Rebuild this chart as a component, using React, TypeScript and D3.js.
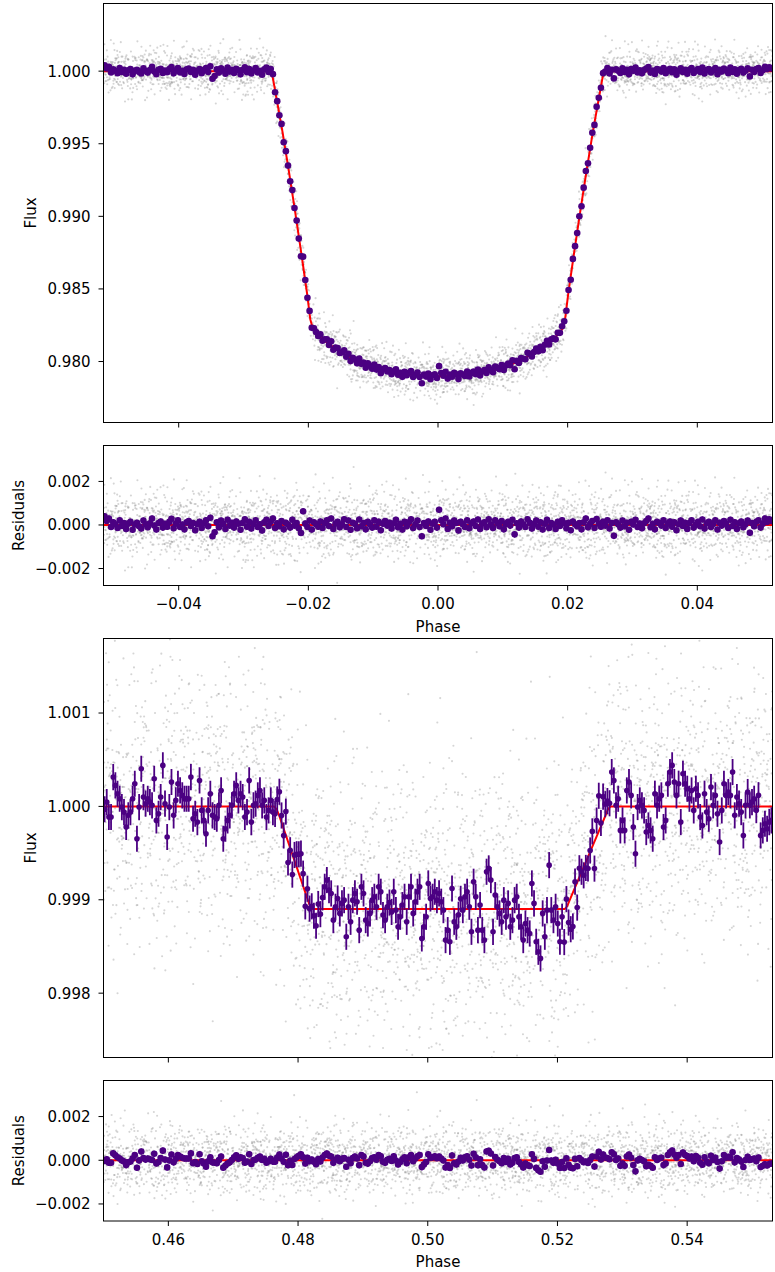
import React from 'react';
import * as d3 from 'd3';

// Phase windows around the primary transit and the secondary eclipse
const PRIMARY_WINDOW: [number, number] = [-0.0516, 0.0516];
const SECONDARY_WINDOW: [number, number] = [0.45, 0.55316];
const BIN_COUNT = 310;
const RAW_COUNT = 3500;
const RAW_SIGMA = 0.00068;
const BIN_ERROR = 0.00014;

// Best-fit transit model (phase, flux)
const PRIMARY_MODEL: [number, number][] = [
  [-0.0516, 1.0], [-0.0257, 1.0], [-0.0254, 0.99935], [-0.0249, 0.9981], [-0.024, 0.99585],
  [-0.023, 0.9931], [-0.022, 0.9902], [-0.021, 0.9872], [-0.0202, 0.9847], [-0.0197, 0.9829],
  [-0.0193, 0.98225], [-0.0185, 0.98185], [-0.017, 0.98125], [-0.015, 0.98065], [-0.013, 0.98012],
  [-0.011, 0.97975], [-0.009, 0.97945], [-0.006, 0.97918], [-0.003, 0.97903], [0.0, 0.97898],
  [0.003, 0.97903], [0.006, 0.97918], [0.009, 0.97945], [0.011, 0.97975], [0.013, 0.98012],
  [0.015, 0.98065], [0.017, 0.98125], [0.0185, 0.98185], [0.0192, 0.98225], [0.0196, 0.9829],
  [0.0201, 0.9847], [0.0209, 0.9872], [0.0219, 0.9902], [0.0229, 0.9931], [0.0239, 0.99585],
  [0.0248, 0.9981], [0.0253, 0.99935], [0.0256, 1.0], [0.0516, 1.0],
];

// Best-fit secondary eclipse model (phase, flux)
const SECONDARY_MODEL: [number, number][] = [
  [0.45, 1.0], [0.4763, 1.0], [0.4767, 0.99997], [0.4771, 0.9999], [0.4817, 0.99896],
  [0.4821, 0.9989], [0.5211, 0.9989], [0.5215, 0.99893], [0.5219, 0.999], [0.5274, 0.9999],
  [0.5278, 0.99997], [0.5282, 1.0], [0.5532, 1.0],
];

// Binned residuals around the transit, ppm
const PRIMARY_RESID_PPM = [
  400, 180, 300, -90, 120, 30, -140, 210, -50, 90,
  -180, 60, 140, -220, 20, 100, -60, -160, 200, 30,
  -100, 80, 300, -30, -210, 90, 160, -120, 50, -80,
  140, 280, -150, 60, 220, -90, 20, -200, 120, 180,
  -50, 90, -240, 30, 150, -140, 80, 210, -60, 330,
  -520, -340, 120, -100, 200, 50, -180, 240, -30, 100,
  -120, 160, 60, -220, 90, 260, -80, 140, -160, 50,
  210, -90, 30, -250, 120, 240, -50, 150, 300, -140,
  80, -60, 180, -200, 100, 20, -120, 240, -30, 90,
  -150, -370, 630, 60, -90, 200, -210, 120, 30, -80,
  160, -140, 90, 220, -50, 300, -180, 60, 140, -100,
  30, 260, -90, 200, -220, 100, 50, -150, 250, -60,
  90, -200, 150, 30, -120, 210, -80, 140, -240, 60,
  180, -30, 100, -160, 80, 240, -100, 50, -210, 150,
  -60, 120, 260, -140, 30, 200, -90, -520, 90, -50,
  160, -220, 60, 140, -120, 700, 220, 30, 300, -180,
  100, -60, 200, 90, -250, 140, 30, -90, 210, -150,
  80, 160, -50, 250, -180, 60, 120, -100, 260, 20,
  -140, 220, 90, -60, 180, -200, 50, 140, -30, 240,
  -430, 80, -120, 160, 30, -90, 260, 100, -160, 50,
  200, -80, 120, -210, 60, 240, -140, 90, 20, -180,
  140, -50, 210, 80, -150, 100, -240, 160, 30, -60,
  90, -200, 120, 300, -100, 50, 180, -140, 270, 60,
  -80, 150, -30, 220, -160, 90, -500, 120, 30, -120,
  200, -60, 100, -220, 140, 20, 240, -90, 60, -150,
  80, 180, 290, -100, 50, -200, 140, 90, -30, 210,
  -140, 60, 160, -80, 120, -240, 30, 200, -50, 100,
  -180, 90, 220, -120, 20, 150, -60, 250, -160, 80,
  140, -90, 50, 210, -210, 100, -30, 180, 60, -140,
  240, -50, 120, -180, 80, 160, -100, 30, 200, -360,
  90, -60, 150, 220, -120, 60, 300, 140, 260, 180,
];

// Binned residuals around the secondary eclipse, ppm
const SECONDARY_RESID_PPM = [
  -30, 46, -114, -114, 314, 225, 136, 82, -7, -61, -221, -96, -61, 82, 243, -346, -7, 403, 100, 29,
  82, 46, 11, 296, -150, -79, 100, 439, 29, -328, -7, 261, -96, 64, 243, 171, 118, 82, 82, 82,
  314, -132, -79, -168, 278, -43, -150, -293, -43, 136, -96, -114, -132, 11, 171, -346, -239, -150, -96, 11,
  136, 225, 64, 136, 100, -114, -61, 278, -168, 11, 29, 118, 171, 11, 64, -114, -43, 64, -61,
  -68, 120, 261, 75, -71, 253, -225, -25, -218, 60, 136, 203, 278, 132, -150, 107, -43, 30,
  -71, -178, 54, -54, 125,
  239, 311, 204, 168, -118, 25, 114, -46, 61, 96, -296, 25, -136, 96, 168, 79, -225, 239, 168, -118,
  -154, -46, 96, 132, 25, 239, 186, -64, -118, 25, 70, -30,
  186, -11, -189, -82, 43, 132, -136, 132, 239, -46, 79, 186, 239, -314, -189, -82, 275, 114, 132, 186,
  96, 168, 79, -11, -332, -225, -350, 221, -136, -189, -60, 110,
  -11, 132, 186, 25, -243, 293, 132, -225, 43, -225, -332, 400, 436, 311, -243, 150, 25, -46, -136, 96,
  -82, 61, -189, -118, 96, 132, -82, -189, -332, -154, -225, -261, 275, 61, -350, -457, -528, -46, -296, -11,
  471, -11, -118,
  25, -154, -350, -82,
  -353, 86, -211, -339, -364, 61, -271, 96, 4, -89, -64, -125, 14, 164, -289, 171, 382, 36, 264, 129, 104,
  46, 368, 278, 11, 82, -257, -150, -257, 171, 261, 118, -221, -507, -7, 64, 11, -43, -275, -204, -257,
  -346, 136, 11, 82, 118, -221, -150, 243, 368, 439, 261, 118, 243, -168, 350, 243, 189, 82, 171, -43,
  189, 118, -114, -204, 136, -61, -132, 207, 11, 118, -79, -382, -43, 243, 118, 154, 118, 368, -96, 100,
  29, -61, -311, 11, 154, 11, 46, 82, -40, 120, -311, -257, -186, -239, -168, -150,
];

// Unbinned scatter, in units of the per-exposure noise
const SCATTER_A = [
  0.3, -1.2, 0.8, -0.4, 1.6, -0.9, 0.1, 2.1, -0.6, -1.5, 0.7, 0.0, -0.3, 1.1, -2.2, 0.5, -0.8, 1.4, 0.2, -1.0,
  -0.1, 0.9, -1.7, 0.6, 1.3, -0.5, -2.6, 0.4, 0.8, -0.2, 1.9, -1.1, 0.3, -0.7, 0.0, 1.2, -1.4, 0.6, 2.4, -0.9,
  0.2, -0.4, 1.0, -1.8, 0.7, -0.1, 0.5, -1.3, 1.5, -0.6, 0.9, -0.3, -1.0, 3.1, 0.1, -0.8, 0.4, 1.7, -2.0, 0.0,
  -0.5, 1.1, -0.2, 0.8, -1.6, 0.3, 1.4, -0.7, -0.1, 0.6, -1.2, 2.0, -0.4, 0.9, -0.9, 0.2, -2.9, 1.3, 0.5, -0.3,
  1.0, -1.5, 0.1, 0.7, -0.6, 1.8, -1.1, -0.2, 0.4, -0.8, 2.6, 0.0, -1.3, 0.6, 1.1, -0.5, 0.3, -1.9, 0.8, -0.1,
  1.5, -0.7, 0.2, -1.0, 0.9, -0.4, -1.6, 1.2, 0.5, -0.2, 0.0, 1.6, -2.3, 0.4, -0.9, 0.7, 1.0, -0.3, -1.1, 0.2,
  2.2, -0.6, 0.8, -1.4, 0.1, -0.5, 1.3, -0.8, 0.6, -2.1, 0.3, 1.9, -0.2, -1.2, 0.5, 0.9, -0.7, -0.1, 1.4, -1.7,
  0.0, 0.7, -0.4, 3.4, -1.0, 0.2, -0.6, 1.1, -1.3, 0.4, 0.8, -2.5, 0.3, -0.1, 1.7, -0.9, 0.6, -0.3, -1.5, 1.0,
  0.1, -0.8, 2.3, -0.2, 0.5, -1.1, 0.9, -0.5, 1.2, -1.8, 0.0, 0.6, -0.7, 1.5, -0.3, -1.4, 0.4, 2.7, -0.6, 0.2,
  -1.0, 0.8, -0.1, -2.0, 1.3, 0.3, -0.9, 0.7, -0.4, 1.1, 0.0,
];
const SCATTER_B = [
  -0.7, 0.4, 1.3, -1.1, 0.2, -0.3, 1.8, -0.9, 0.6, -2.0, 0.1, 0.9, -0.5, 1.4, -1.6, 0.3, -0.2, 2.5, -0.8, 0.7,
  1.1, -1.3, 0.0, 0.5, -0.6, 1.6, -2.4, 0.8, -0.1, 0.3, -1.0, 1.2, 0.4, -0.7, 2.0, -0.4, -1.5, 0.6, 0.1, -0.9,
  0.9, -0.2, -1.8, 1.0, 0.5, -0.6, 0.2, 1.5, -1.2, -0.3, 0.7, -3.2, 0.4, 1.1, -0.8, 0.0, 1.7, -0.5, 0.3, -1.4,
  -0.1, 0.8, -0.9, 2.2, -0.3, 0.6, -1.1, 0.2, 1.3, -0.7, -0.4, 0.9, -1.7, 0.5, 0.1, -2.2, 1.4, -0.2, 0.7, -1.0,
  0.4, 1.9, -0.6, 0.0, -1.3, 0.8, 0.3, -0.5, 1.0, -2.7, 0.6, -0.1, 1.2, -0.8, 0.2, -1.6, 0.9, -0.3, 0.5, 1.6,
  -1.2, 0.1, -0.7, 2.8, -0.4, 0.7, -1.9, 0.3, 1.1, -0.2, -0.9, 0.6, 0.0, -1.4, 1.5, -0.5, 0.8, -1.1, 0.4, 2.1,
  -0.6, -0.1, 1.3, -1.7, 0.2, 0.9, -0.3, -2.3, 0.5, 1.0, -0.8, 0.1, -1.2, 1.8, -0.4, 0.6, -0.7, 0.3, 1.4, -1.5,
  0.0, 0.8, -2.1, 0.4, -0.2, 1.2, -0.9, 0.7, 3.6, -0.6, -1.0, 0.2, 0.5, -1.8, 1.1, -0.3, 0.9, -0.5, -1.3, 0.6,
  1.7, -0.8, 0.1, -1.1, 0.4, 2.4, -0.4, 0.3, -1.6, 0.8, -0.2, 1.0, -0.7, 0.0, -2.6, 0.5, 1.3, -0.9, 0.2, -0.1,
  0.6, -1.2, 1.5, -0.4, 0.3, -0.8, 0.9, -1.5, 0.7, -0.3, 1.2, -0.6, 0.4, -2.0, 0.8, 0.1, -0.9, 1.6, -0.2,
];

// Axis ticks
const PRIMARY_FLUX_TICKS = [0.98, 0.985, 0.99, 0.995, 1.0];
const SECONDARY_FLUX_TICKS = [0.998, 0.999, 1.0, 1.001];
const RESID_TICKS = [-0.002, 0, 0.002];
const PRIMARY_PHASE_TICKS = [-0.04, -0.02, 0, 0.02, 0.04];
const SECONDARY_PHASE_TICKS = [0.46, 0.48, 0.5, 0.52, 0.54];

// ---- layout ----
const W = 775;
const H = 1272;
const LEFT = 103.5;
const RIGHT = 772.5;
const FONT = 'DejaVu Sans, sans-serif';
const PURPLE = '#4b0082';

type Pt = [number, number];

const modelBisect = d3.bisector((d: Pt) => d[0]).right;
function modelAt(model: Pt[], p: number): number {
  const i = modelBisect(model, p);
  if (i <= 0) return model[0][1];
  if (i >= model.length) return model[model.length - 1][1];
  const [x0, y0] = model[i - 1];
  const [x1, y1] = model[i];
  return d3.interpolateNumber(y0, y1)((p - x0) / (x1 - x0));
}

function binPhases(win: [number, number], n: number) {
  const step = (win[1] - win[0]) / n;
  return d3.range(n).map((i) => win[0] + (i + 0.5) * step);
}

interface Series {
  rawResid: Pt[];
  rawFlux: Pt[];
  binResid: Pt[];
  binFlux: Pt[];
}

function buildSeries(win: [number, number], model: Pt[], residPpm: number[], ia: number, ib: number, ka: number, kb: number): Series {
  const bp = binPhases(win, BIN_COUNT);
  const n = Math.min(bp.length, residPpm.length);
  const binResid: Pt[] = [];
  const binFlux: Pt[] = [];
  for (let i = 0; i < n; i++) {
    const r = residPpm[i] * 1e-6;
    binResid.push([bp[i], r]);
    binFlux.push([bp[i], modelAt(model, bp[i]) + r]);
  }
  const rp = binPhases(win, RAW_COUNT);
  const rawResid: Pt[] = [];
  const rawFlux: Pt[] = [];
  rp.forEach((p, k) => {
    const a = SCATTER_A[(ka * k + ia) % SCATTER_A.length];
    const b = SCATTER_B[(kb * k + ib) % SCATTER_B.length];
    // unequal weights keep the one-decimal table values from stacking into rows
    const r = (0.83 * a + 0.557 * b) * RAW_SIGMA;
    rawResid.push([p, r]);
    rawFlux.push([p, modelAt(model, p) + r]);
  });
  return { rawResid, rawFlux, binResid, binFlux };
}

interface PanelProps {
  id: string;
  top: number;
  bottom: number;
  xDomain: [number, number];
  yDomain: [number, number];
  xTicks: number[];
  xFormat: (v: number) => string;
  showXLabels: boolean;
  yTicks: number[];
  yFormat: (v: number) => string;
  yLabel: string;
  yLabelX: number;
  raw: Pt[];
  bins: Pt[];
  model: Pt[];
  markerR: number;
  errWidth: number;
}

function Panel(props: PanelProps) {
  const { id, top, bottom, xDomain, yDomain, xTicks, xFormat, showXLabels, yTicks, yFormat, yLabel, yLabelX, raw, bins, model, markerR, errWidth } = props;
  const x = d3.scaleLinear().domain(xDomain).range([LEFT, RIGHT]);
  const y = d3.scaleLinear().domain(yDomain).range([bottom, top]);
  const line = d3.line<Pt>().x((d) => x(d[0])).y((d) => y(d[1]));
  const clipId = `clip-${id}`;
  return (
    <g>
      <defs>
        <clipPath id={clipId}>
          <rect x={LEFT} y={top} width={RIGHT - LEFT} height={bottom - top} />
        </clipPath>
      </defs>
      <g clipPath={`url(#${clipId})`}>
        <g fill="#808080" fillOpacity={0.33}>
          {raw.map((d, i) => (
            <circle key={i} cx={x(d[0])} cy={y(d[1])} r={1.05} />
          ))}
        </g>
        <path d={line(model) || ''} fill="none" stroke="#ff0000" strokeWidth={2} />
        <g stroke={PURPLE} strokeWidth={errWidth}>
          {bins.map((d, i) => (
            <line key={i} x1={x(d[0])} x2={x(d[0])} y1={y(d[1] - BIN_ERROR)} y2={y(d[1] + BIN_ERROR)} />
          ))}
        </g>
        <g fill={PURPLE}>
          {bins.map((d, i) => (
            <circle key={i} cx={x(d[0])} cy={y(d[1])} r={markerR} />
          ))}
        </g>
      </g>
      <rect x={LEFT} y={top} width={RIGHT - LEFT} height={bottom - top} fill="none" stroke="#000" strokeWidth={1} />
      {yTicks.map((t) => (
        <g key={`y${t}`}>
          <line x1={LEFT - 5} x2={LEFT} y1={y(t)} y2={y(t)} stroke="#000" strokeWidth={1} />
          <text x={LEFT - 13} y={y(t)} dy="0.36em" textAnchor="end" fontSize={15} fontFamily={FONT} fill="#000">
            {yFormat(t)}
          </text>
        </g>
      ))}
      {xTicks.map((t) => (
        <g key={`x${t}`}>
          <line x1={x(t)} x2={x(t)} y1={bottom} y2={bottom + 5} stroke="#000" strokeWidth={1} />
          {showXLabels && (
            <text x={x(t)} y={bottom + 23.5} textAnchor="middle" fontSize={15} fontFamily={FONT} fill="#000">
              {xFormat(t)}
            </text>
          )}
        </g>
      ))}
      {showXLabels && (
        <text x={(LEFT + RIGHT) / 2} y={bottom + 46} textAnchor="middle" fontSize={15} fontFamily={FONT} fill="#000">
          Phase
        </text>
      )}
      <text
        transform={`translate(${yLabelX},${(top + bottom) / 2}) rotate(-90)`}
        textAnchor="middle"
        fontSize={15}
        fontFamily={FONT}
        fill="#000"
      >
        {yLabel}
      </text>
    </g>
  );
}

export default function App() {
  const primary = React.useMemo(() => buildSeries(PRIMARY_WINDOW, PRIMARY_MODEL, PRIMARY_RESID_PPM, 0, 5, 1, 3), []);
  const secondary = React.useMemo(() => buildSeries(SECONDARY_WINDOW, SECONDARY_MODEL, SECONDARY_RESID_PPM, 40, 101, 7, 1), []);
  const zeroLinePrimary: Pt[] = [[PRIMARY_WINDOW[0], 0], [PRIMARY_WINDOW[1], 0]];
  const zeroLineSecondary: Pt[] = [[SECONDARY_WINDOW[0], 0], [SECONDARY_WINDOW[1], 0]];
  const f3 = d3.format('.3f');
  const f2 = d3.format('.2f');
  const residDomain: [number, number] = [-0.00278, 0.00365];
  return (
    <svg width={W} height={H} style={{ position: 'absolute', left: 0, top: 0, background: '#fff' }}>
      <rect width={W} height={H} fill="#fff" />
      <Panel
        id="p1"
        top={3.5}
        bottom={422.5}
        xDomain={PRIMARY_WINDOW}
        yDomain={[0.9758, 1.00466]}
        xTicks={PRIMARY_PHASE_TICKS}
        xFormat={f2}
        showXLabels={false}
        yTicks={PRIMARY_FLUX_TICKS}
        yFormat={f3}
        yLabel="Flux"
        yLabelX={36}
        raw={primary.rawFlux}
        bins={primary.binFlux}
        model={PRIMARY_MODEL}
        markerR={3.3}
        errWidth={1.5}
      />
      <Panel
        id="p2"
        top={445.5}
        bottom={585.5}
        xDomain={PRIMARY_WINDOW}
        yDomain={residDomain}
        xTicks={PRIMARY_PHASE_TICKS}
        xFormat={f2}
        showXLabels={true}
        yTicks={RESID_TICKS}
        yFormat={f3}
        yLabel="Residuals"
        yLabelX={24}
        raw={primary.rawResid}
        bins={primary.binResid}
        model={zeroLinePrimary}
        markerR={3.3}
        errWidth={1.5}
      />
      <Panel
        id="p3"
        top={638.5}
        bottom={1057.5}
        xDomain={SECONDARY_WINDOW}
        yDomain={[0.997311, 1.001798]}
        xTicks={SECONDARY_PHASE_TICKS}
        xFormat={f2}
        showXLabels={false}
        yTicks={SECONDARY_FLUX_TICKS}
        yFormat={f3}
        yLabel="Flux"
        yLabelX={36}
        raw={secondary.rawFlux}
        bins={secondary.binFlux}
        model={SECONDARY_MODEL}
        markerR={2.8}
        errWidth={1.8}
      />
      <Panel
        id="p4"
        top={1080.5}
        bottom={1221}
        xDomain={SECONDARY_WINDOW}
        yDomain={residDomain}
        xTicks={SECONDARY_PHASE_TICKS}
        xFormat={f2}
        showXLabels={true}
        yTicks={RESID_TICKS}
        yFormat={f3}
        yLabel="Residuals"
        yLabelX={24}
        raw={secondary.rawResid}
        bins={secondary.binResid}
        model={zeroLineSecondary}
        markerR={3.3}
        errWidth={1.5}
      />
    </svg>
  );
}
